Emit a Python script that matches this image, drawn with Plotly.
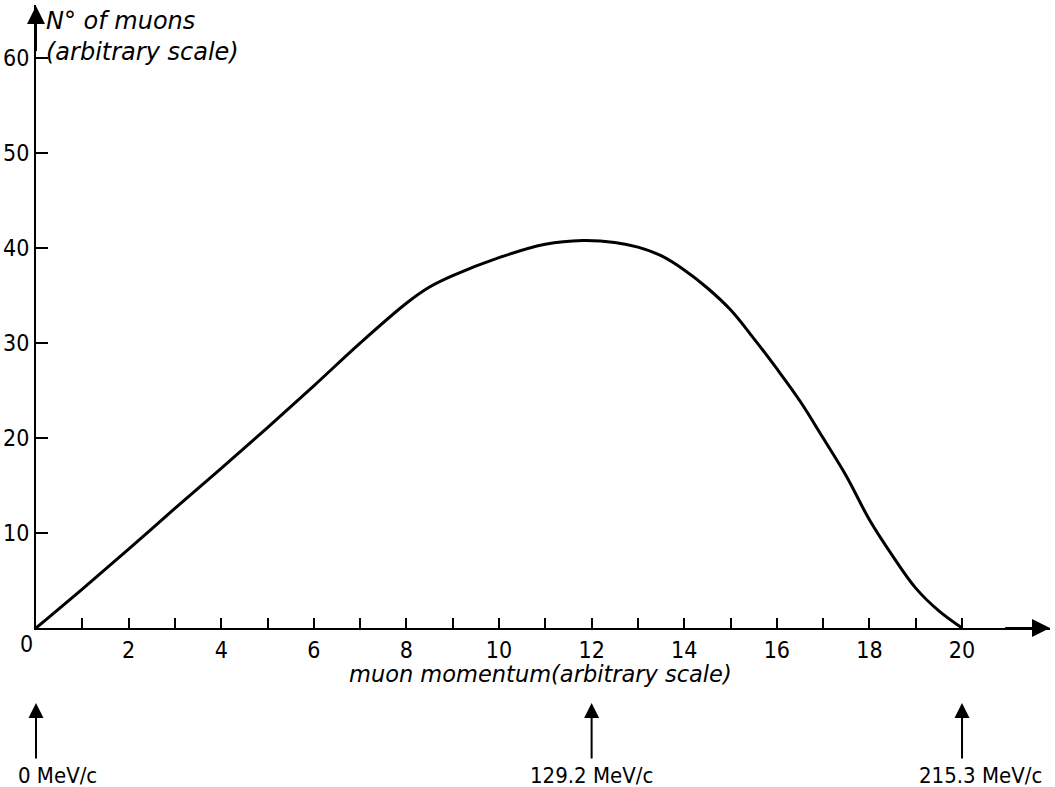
import plotly.graph_objects as go

# ---- data ----
momentum = [0, 1, 2, 3, 4, 5, 6, 7, 8, 8.5, 9, 10, 11, 11.8, 12.5, 13, 13.5, 14,
            14.5, 15, 15.5, 16, 16.5, 17, 17.5, 18, 18.5, 19, 19.5, 20]
n_muons = [0, 4.1, 8.3, 12.6, 16.8, 21.1, 25.5, 30.0, 34.2, 35.9, 37.1, 39.0, 40.4,
           40.8, 40.6, 40.1, 39.2, 37.7, 35.8, 33.5, 30.5, 27.3, 23.9, 20.0, 16.0,
           11.4, 7.6, 4.2, 1.8, 0]

x_ticks = list(range(0, 21))
x_tick_labels = ["" if (v % 2 or v == 0) else str(v) for v in x_ticks]
y_ticks = [10, 20, 30, 40, 50, 60]
y_tick_labels = ["10", "20", "30", "40", "50", "60"]

marker_x = [0, 12, 20]
marker_labels = ["0 MeV/c", "129.2 MeV/c", "215.3 MeV/c"]

FONT = "DejaVu Sans Condensed, Liberation Sans Narrow, DejaVu Sans, sans-serif"
NUMFONT = dict(family=FONT, size=23)
TITLEFONT = "DejaVu Sans, sans-serif"

fig = go.Figure()
fig.add_trace(go.Scatter(x=momentum, y=n_muons, mode="lines",
                         line=dict(color="black", width=3, shape="spline", smoothing=1.0),
                         hoverinfo="skip", showlegend=False))

X_MAX = 21.9
Y_MAX = 65.6
PLOT_H = 623  # px height of plotting area (787 - 5 - 159)

fig.update_layout(
    width=1055, height=787,
    margin=dict(l=36, r=5, t=5, b=159, autoexpand=False),
    paper_bgcolor="white", plot_bgcolor="white",
    font=dict(family=FONT, size=23, color="black"),
    showlegend=False,
    xaxis=dict(range=[0, X_MAX], showgrid=False, zeroline=False, automargin=False,
               showline=True, linecolor="black", linewidth=2,
               tickmode="array", tickvals=x_ticks, ticktext=x_tick_labels,
               ticks="inside", ticklen=10, tickwidth=2, tickcolor="black",
               tickfont=NUMFONT),
    yaxis=dict(range=[0, Y_MAX], showgrid=False, zeroline=False, automargin=False,
               showline=True, linecolor="black", linewidth=2,
               tickmode="array", tickvals=y_ticks, ticktext=y_tick_labels,
               ticks="inside", ticklen=12, tickwidth=2, tickcolor="black",
               tickfont=NUMFONT),
)

ann = []
# axis arrow heads
ann.append(dict(x=X_MAX, y=0, ax=X_MAX - 1, ay=0, xref="x", yref="y", axref="x", ayref="y",
                text="", showarrow=True, arrowhead=2, arrowsize=1.8, arrowwidth=2,
                arrowcolor="black"))
ann.append(dict(x=0, y=Y_MAX - 0.1, ax=0, ay=Y_MAX - 5, xref="x", yref="y", axref="x", ayref="y",
                text="", showarrow=True, arrowhead=2, arrowsize=1.8, arrowwidth=2,
                arrowcolor="black"))
# "0" label at origin (slightly left of the axis)
ann.append(dict(x=0, y=0, xref="x", yref="y", text="0", showarrow=False,
                xanchor="center", yanchor="middle", xshift=-10, yshift=-16,
                font=NUMFONT))
# axis titles
ann.append(dict(x=10.9, y=0, xref="x", yref="y", text="<i>muon momentum(arbitrary scale)</i>",
                showarrow=False, xanchor="center", yanchor="middle", yshift=-46,
                font=dict(family=TITLEFONT, size=22.5)))
ann.append(dict(x=0, y=Y_MAX, xref="x", yref="y",
                text="<i>N° of muons<br>(arbitrary scale)</i>", showarrow=False,
                xanchor="left", yanchor="top", xshift=8, yshift=0, align="left",
                font=dict(family=TITLEFONT, size=24)))
# momentum markers below the axis
label_anchor = ["left", "center", "center"]
label_shift = [-20, 0, 18]
for mx, lab, anc, sh in zip(marker_x, marker_labels, label_anchor, label_shift):
    ann.append(dict(x=mx, y=-75 / PLOT_H, xref="x", yref="paper", text="",
                    showarrow=True, ax=0, ay=57, arrowhead=2, arrowsize=1.5,
                    arrowwidth=2, arrowcolor="black"))
    ann.append(dict(x=mx, y=-147 / PLOT_H, xref="x", yref="paper", text=lab,
                    showarrow=False, xanchor=anc, yanchor="middle", xshift=sh,
                    font=dict(family=FONT, size=22)))

fig.update_layout(annotations=ann)
fig.write_html("out.html", config={"displayModeBar": False},
               post_script="document.body.style.margin='0';document.body.style.overflow='hidden';")
